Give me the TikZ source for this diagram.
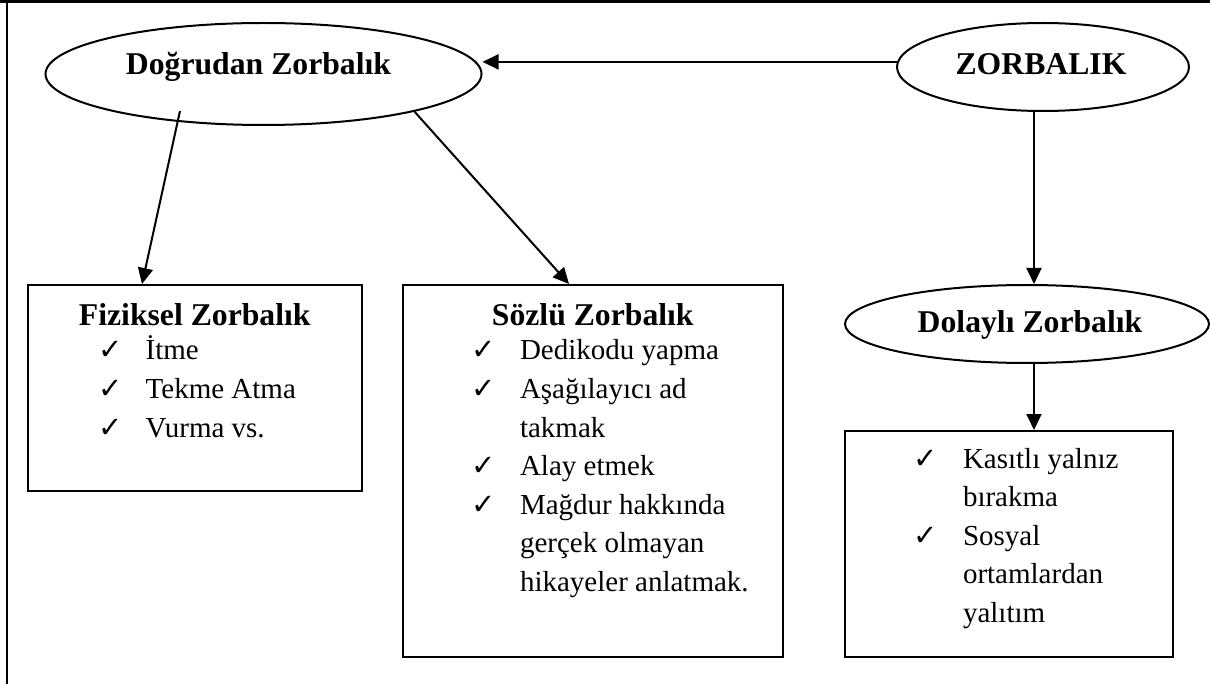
\documentclass[tikz,border=0pt]{standalone}
\usepackage{fontspec}
\setmainfont{Liberation Serif}
\newfontfamily\chkfont{DejaVu Sans}
\usetikzlibrary{arrows.meta,calc,shapes.geometric}
\begin{document}
\begin{tikzpicture}[x=1pt,y=-1pt,
  line width=2pt,
  arr/.style={-{Triangle[length=16pt,width=15pt]}},
  ell/.style={draw,ellipse,inner sep=0pt},
  box/.style={draw,rectangle,inner sep=0pt},
  ttl/.style={font=\fontsize{31.7}{38}\selectfont\bfseries, anchor=base, inner sep=0pt},
  itm/.style={font=\fontsize{29}{38}\selectfont, anchor=base west, inner sep=0pt},
  chk/.style={font=\chkfont\fontsize{29}{30}\selectfont, anchor=base west, inner sep=0pt},
]
\useasboundingbox (0,0) rectangle (1210,684);
% frame
\coordinate (fa) at (0,2);
\coordinate (fb) at (1210,2);
\coordinate (fc) at (7,2);
\coordinate (fd) at (7,684);
\draw[line width=3pt] (fa) -- (fb);
\draw[line width=2.5pt] (fc) -- (fd);

% ellipses
\node[ell, minimum width=436pt, minimum height=102pt] (dog) at (263.5,74) {};
\node[ell, minimum width=292pt, minimum height=88pt] (zor) at (1043,67) {};
\node[ell, minimum width=364pt, minimum height=78pt] (dolell) at (1027,324) {};

% boxes
\node[box, minimum width=333.5pt, minimum height=206pt] (fiz) at (194.75,388) {};
\node[box, minimum width=379.5pt, minimum height=372pt] (soz) at (592.75,471) {};
\node[box, minimum width=328pt, minimum height=226pt] (dolbox) at (1009,544) {};

% titles
\node[ttl] (tdog) at (258.5,75) {Doğrudan Zorbalık};
\node[ttl] (tzor) at (1041,75) {ZORBALIK};
\node[ttl] (tdol) at (1030,333) {Dolaylı Zorbalık};
\node[ttl] (tfiz) at (194.75,326) {Fiziksel Zorbalık};
\node[ttl] (tsoz) at (592.75,326) {Sözlü Zorbalık};

% Fiziksel items
\node[chk] (fc1) at (97,360) {✓};
\node[chk] (fc2) at (97,398.5) {✓};
\node[chk] (fc3) at (97,437) {✓};
\node[itm] (fi1) at (144.7,360) {İtme};
\node[itm] (fi2) at (144.7,398.5) {Tekme Atma};
\node[itm] (fi3) at (144.7,437) {Vurma vs.};

% Sozlu items
\node[chk] (sc1) at (470,360) {✓};
\node[chk] (sc2) at (470,398.5) {✓};
\node[chk] (sc3) at (470,475.5) {✓};
\node[chk] (sc4) at (470,514) {✓};
\node[itm] (si1) at (519,360) {Dedikodu yapma};
\node[itm] (si2) at (519,398.5) {Aşağılayıcı ad};
\node[itm] (si3) at (519,437) {takmak};
\node[itm] (si4) at (519,475.5) {Alay etmek};
\node[itm] (si5) at (519,514) {Mağdur hakkında};
\node[itm] (si6) at (519,552.5) {gerçek olmayan};
\node[itm] (si7) at (519,591) {hikayeler anlatmak.};

% Dolayli items
\node[chk] (dc1) at (912,468) {✓};
\node[chk] (dc2) at (912,545) {✓};
\node[itm] (di1) at (962,468) {Kasıtlı yalnız};
\node[itm] (di2) at (962,506.5) {bırakma};
\node[itm] (di3) at (962,545) {Sosyal};
\node[itm] (di4) at (962,583.5) {ortamlardan};
\node[itm] (di5) at (962,622) {yalıtım};

% connector end points
\coordinate (a1) at ($(dog.center)+(-83.5,37)$);
\coordinate (a2) at ($(fiz.north)+(-52.75,0)$);
\coordinate (b2) at ($(soz.north)+(-23.75,0)$);
\coordinate (z1) at ($(zor.south)+(-9,0)$);
\coordinate (z2) at (z1 |- dolell.north);
\coordinate (d1) at ($(dolell.south)+(7,0)$);
\coordinate (d2) at (d1 |- dolbox.north);

% connectors
\draw[arr] (zor.178) -- (zor.178 -| dog.east);
\draw[arr] (a1) -- (a2);
\draw[arr] (dog.-14) -- (b2);
\draw[arr] (z1) -- (z2);
\draw[arr] (d1) -- (d2);
\end{tikzpicture}
\end{document}
